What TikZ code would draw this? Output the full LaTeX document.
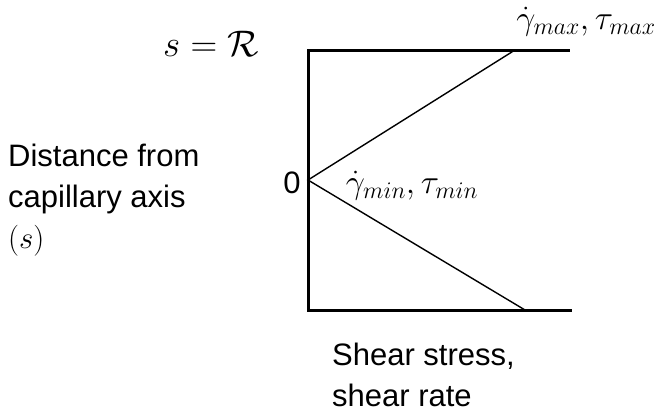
\RequirePackage{fix-cm}
\documentclass[tikz,border=0pt]{standalone}
\usepackage{fontspec}
\setmainfont{Liberation Sans}
\begin{document}
\begin{tikzpicture}[
    x=1pt, y=-1pt,
    axis/.style={line width=3pt, line cap=rect},
    profile/.style={line width=1.4pt},
    every node/.style={inner sep=0pt},
    lbl/.style={font=\fontsize{31}{41}\selectfont, align=left, anchor=north west},
    mth/.style={font=\fontsize{34}{40}\selectfont}
  ]
  \useasboundingbox (0,0) rectangle (659,410);
  % axes frame
  \coordinate (top) at (308,50);
  \coordinate (mid) at (308,180);
  \coordinate (bot) at (308,310);
  \coordinate (topend) at (568,50);
  \coordinate (botend) at (570,310);
  \coordinate (tmax) at (515,50);
  \coordinate (tmin) at (525,310);
  \draw[axis] (topend) -- (top) -- (bot) -- (botend);
  \draw[profile] (tmax) -- (mid) -- (tmin);
  % labels
  \node[mth, font=\fontsize{37}{40}\selectfont] (wall) at (211,44) {$s=\mathcal{R}$};
  \node[font=\fontsize{31}{41}\selectfont] (zero) at (292,183) {0};
  \node[mth] (gmax) at (586,22) {$\dot{\gamma}_{max},\tau_{max}$};
  \node[mth] (gmin) at (412,186) {$\dot{\gamma}_{min},\tau_{min}$};
  \node[lbl] (ylab) at (8,144) {Distance from\\capillary axis\\$(s)$};
  \node[lbl] (xlab) at (332,343) {Shear stress,\\shear rate};
\end{tikzpicture}
\end{document}
